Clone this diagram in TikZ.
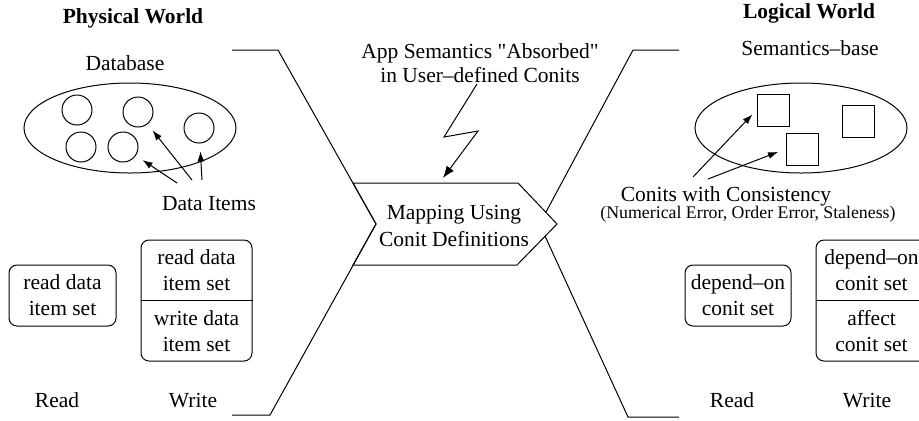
\documentclass[tikz,border=0pt]{standalone}
\usepackage{fontspec}
\setmainfont{Liberation Serif}[Ligatures=TeXOff]
\usetikzlibrary{arrows.meta}

\begin{document}
\begin{tikzpicture}[x=0.5pt, y=-0.5pt, line width=0.5pt,
  txt/.style={font=\fontsize{10.75pt}{13pt}\selectfont, inner sep=0pt, align=center},
  ttl/.style={txt, font=\fontsize{10.75pt}{13pt}\selectfont\bfseries},
  note/.style={txt, font=\fontsize{8.9pt}{10pt}\selectfont},
  item/.style={draw, circle, minimum size=15pt, inner sep=0pt},
  conit/.style={draw, rectangle, minimum size=16pt, inner sep=0pt},
  setbox/.style={txt, draw, rounded corners=4pt, minimum height=30.5pt},
  pointer/.style={-{Latex[length=5pt,width=3.5pt]}, shorten >=4pt}]
  \useasboundingbox (0,0) rectangle (919,420);
  \clip (0,0) rectangle (919,420);

  % physical side
  \node[ttl, anchor=base] (phys) at (133,23) {Physical World};
  \node[txt, anchor=base] (db) at (125,70) {Database};
  \draw (130,128) ellipse (53pt and 22.5pt);
  \node[item] (c1) at (77,110) {};
  \node[item] (c2) at (138,112) {};
  \node[item] (c3) at (199,128) {};
  \node[item] (c4) at (81,147) {};
  \node[item] (c5) at (123,147) {};
  \node[txt, anchor=base] (items) at (209,210) {Data Items};
  \coordinate (a1) at (177,183);
  \coordinate (a2) at (192,180);
  \coordinate (a3) at (202,180);
  \draw[pointer] (a1) -- (c5);
  \draw[pointer] (a2) -- (c2);
  \draw[pointer] (a3) -- (c3);

  \node[setbox, minimum width=53.5pt] (rdbox) at (62.5,295.5) {read data\\item set};
  \node[setbox, minimum width=55.5pt, minimum height=60.5pt] (wrbox) at (196.5,300.5) {};
  \draw (wrbox.west) -- (wrbox.east);
  \node[txt] (wrread) at (196.5,270.5) {read data\\item set};
  \node[txt] (wrwrite) at (196.5,331) {write data\\item set};
  \node[txt, anchor=base] (rd) at (57,407) {Read};
  \node[txt, anchor=base] (wr) at (193,407) {Write};

  % mapping in the middle
  \draw (232,50) -- (278,50) -- (376,224) -- (270,415) -- (232,415);
  \draw (679,50) -- (633,50) -- (546,212);
  \draw (545,236) -- (628,417) -- (679,417);
  \draw (353,183) -- (518,183) -- (557,224) -- (517,265) -- (353,265) -- (376,224) -- cycle;
  \node[txt, font=\fontsize{10.75pt}{13.5pt}\selectfont] (mapping) at (454,226) {Mapping Using\\Conit Definitions};
  \node[txt, font=\fontsize{10.75pt}{12pt}\selectfont] (app) at (480,63) {App Semantics "Absorbed"\\in User–defined Conits};
  \coordinate (zig1) at (444,137);
  \coordinate (zig2) at (478,131);
  \coordinate (hit) at (443,178);
  \draw[-{Latex[length=6pt,width=4.5pt]}] (477,84) -- (zig1) -- (zig2) -- (hit);

  % logical side
  \node[ttl, anchor=base] (logic) at (809,18) {Logical World};
  \node[txt, anchor=base] (sembase) at (810,55) {Semantics–base};
  \draw (801,128) ellipse (53pt and 22.5pt);
  \node[conit] (s1) at (773,110) {};
  \node[conit] (s2) at (858,121) {};
  \node[conit] (s3) at (802,149) {};
  \node[txt, anchor=base] (conits) at (726,201) {Conits with Consistency};
  \node[note, anchor=base] (metrics) at (748,218) {(Numerical Error, Order Error, Staleness)};
  \coordinate (b1) at (693,177);
  \coordinate (b2) at (708,179);
  \draw[pointer, shorten >=3pt] (b1) -- (s1.west);
  \draw[pointer] (b2) -- (s3.west);

  \node[setbox, minimum width=53pt] (dpbox) at (738,295.5) {depend–on\\conit set};
  \node[setbox, minimum width=55.5pt, minimum height=60.5pt] (afbox) at (871.5,300.5) {};
  \draw (afbox.west) -- (afbox.east);
  \node[txt] (afdep) at (871.5,270.5) {depend–on\\conit set};
  \node[txt] (afaff) at (871.5,331) {affect\\conit set};
  \node[txt, anchor=base] (rd2) at (732,407) {Read};
  \node[txt, anchor=base] (wr2) at (867,407) {Write};
\end{tikzpicture}
\end{document}
